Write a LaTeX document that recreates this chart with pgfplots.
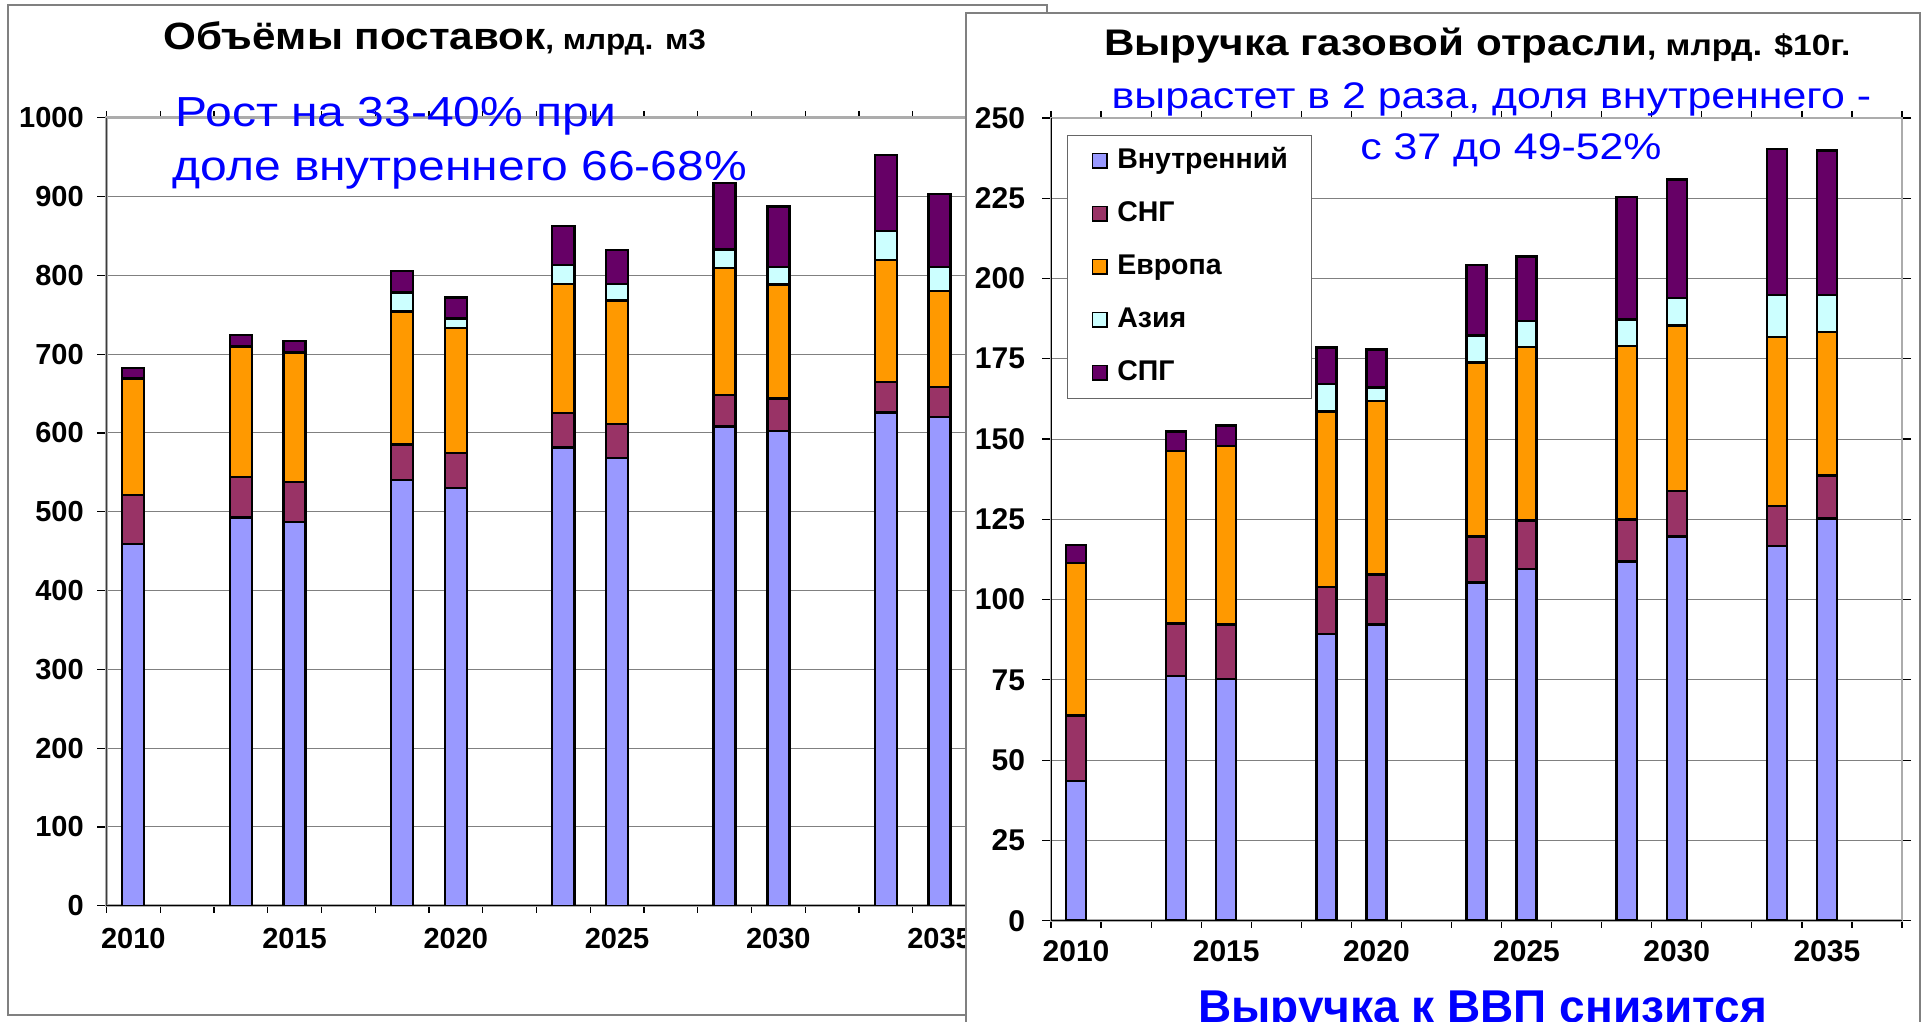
\documentclass[border=0pt]{standalone}
\usepackage{fontspec}
\setmainfont{Liberation Sans}
\usepackage{graphicx}
\usepackage{pgfplots}
\pgfplotsset{compat=1.18}
\definecolor{vnutr}{HTML}{9999FF}
\definecolor{sng}{HTML}{993366}
\definecolor{evropa}{HTML}{FF9900}
\definecolor{aziya}{HTML}{CCFFFF}
\definecolor{spg}{HTML}{660066}
\definecolor{txtblue}{HTML}{0000FF}

\pgfplotsset{
  gasbars/.style={
    ybar stacked, bar shift=0pt,
    scale only axis,
    xmin=-0.5, xmax=16.5, ymin=0,
    axis line style={draw=gray!65, line width=1.3pt},
    ymajorgrids, major grid style={draw=gray, line width=0.5pt},
    tick align=outside,
    xtick={0,3,...,15},
    xticklabels={2010,2015,2020,2025,2030,2035},
    major x tick style={draw=none},
    minor xtick={-0.5,0.5,...,16.5},
    minor tick length=3.5pt, major tick length=4.5pt,
    every tick/.style={black, line width=0.6pt},
    /pgf/number format/assume math mode=true,
    /pgf/number format/1000 sep={},
    every axis plot/.append style={draw=black, line width=1.2pt},
  }
}

\begin{document}
\begin{tikzpicture}
\path[use as bounding box] (0,0) rectangle (960.5pt,511pt);
\clip (0,0) rectangle (960.5pt,511pt);

% левая панель
\draw[gray, line width=0.6pt, fill=white] (4pt,3.5pt) rectangle (523.5pt,508.5pt);

\begin{axis}[gasbars,
    at={(53.2pt,58.1pt)}, anchor=south west,
    width=456.9pt, height=394pt,
    ymax=1000, ytick={0,100,...,1000},
    bar width=0.41,
    tick label style={font=\fontsize{14.5}{16}\selectfont\bfseries},
    yticklabel style={xshift=-3.3pt},
    xticklabel style={yshift=-3.3pt},
]
\addplot[fill=vnutr] coordinates {(0,459.5) (2,493) (3,487) (5,540.5) (6,530) (8,581.5) (9,568) (11,608) (12,602.5) (14,626) (15,620)};
\addplot[fill=sng] coordinates {(0,61.5) (2,51) (3,51) (5,44.7) (6,44.5) (8,43.5) (9,43.5) (11,40) (12,41.5) (14,38.5) (15,38)};
\addplot[fill=evropa] coordinates {(0,148) (2,166) (3,164) (5,169) (6,159) (8,164) (9,156.5) (11,161.5) (12,144.5) (14,155) (15,122.5)};
\addplot[fill=aziya] coordinates {(0,0) (2,0) (3,0) (5,24) (6,12) (8,24.5) (9,21) (11,23.5) (12,22) (14,37) (15,30.5)};
\addplot[fill=spg] coordinates {(0,13.5) (2,14.5) (3,14.5) (5,27) (6,26.5) (8,49) (9,43.5) (11,84) (12,77) (14,96) (15,92)};
\draw[black, line width=0.9pt] (rel axis cs:0,0) -- (rel axis cs:0,1);
\draw[black, line width=0.9pt] (rel axis cs:0,0) -- (rel axis cs:1,0);
\end{axis}

% правая панель поверх левой
\draw[gray, line width=0.6pt, fill=white] (483pt,-5pt) rectangle (960pt,504.5pt);

\begin{axis}[gasbars,
    at={(525.5pt,50.65pt)}, anchor=south west,
    width=425.5pt, height=401.35pt,
    ymax=250, ytick={0,25,...,250},
    bar width=0.4,
    tick label style={font=\fontsize{15}{17}\selectfont\bfseries},
    yticklabel style={xshift=-5pt},
    xticklabel style={yshift=-1.8pt},
    legend cell align=left,
    legend image code/.code={\draw[#1, draw=black, line width=0.9pt] (0pt,-3.7pt) rectangle (7.4pt,3.7pt);},
    legend style={at={(0.019,0.979)}, anchor=north west,
        draw=gray!80!black, line width=0.5pt, fill=white,
        font=\fontsize{14.25}{16}\selectfont\bfseries,
        inner xsep=12pt, inner ysep=6pt, row sep=13pt,
        nodes={inner sep=0pt, text height=10.5pt, text depth=3pt},
        /tikz/every odd column/.append style={column sep=4.5pt}},
]
\addplot[fill=vnutr] coordinates {(0,43.6) (2,76.2) (3,75.3) (5,89.2) (6,92.2) (8,105.3) (9,109.6) (11,111.9) (12,119.6) (14,116.7) (15,125.3)};
\addplot[fill=sng] coordinates {(0,20.3) (2,16.4) (3,17.0) (5,14.7) (6,15.6) (8,14.4) (9,15.0) (11,13.1) (12,14.2) (14,12.5) (15,13.4)};
\addplot[fill=evropa] coordinates {(0,47.5) (2,53.7) (3,55.6) (5,54.7) (6,54.0) (8,54.2) (9,54.1) (11,53.9) (12,51.6) (14,52.6) (15,44.6)};
\addplot[fill=aziya] coordinates {(0,0) (2,0) (3,0) (5,8.6) (6,4.3) (8,8.4) (9,8.0) (11,8.3) (12,8.6) (14,13.1) (15,11.6)};
\addplot[fill=spg] coordinates {(0,5.7) (2,6.1) (3,6.3) (5,11.3) (6,11.8) (8,22.0) (9,20.1) (11,38.1) (12,36.8) (14,45.5) (15,45.0)};
\legend{Внутренний,СНГ,Европа,Азия,СПГ}
\draw[black, line width=0.9pt] (rel axis cs:0,0) -- (rel axis cs:0,1);
\draw[black, line width=0.9pt] (rel axis cs:0,0) -- (rel axis cs:1,0);
\end{axis}

% заголовки и подписи
\node[anchor=base west, inner sep=0pt] at (81.5pt,486pt)
  {\scalebox{1.11}[1]{\fontsize{19}{22}\selectfont\bfseries Объёмы поставок\fontsize{14.2}{16}\selectfont, млрд. м3}};
\node[anchor=base west, inner sep=0pt, text=txtblue] at (87.5pt,447.5pt)
  {\scalebox{1.143}[1]{\fontsize{21}{24}\selectfont Рост на 33-40\% при}};
\node[anchor=base west, inner sep=0pt, text=txtblue] at (86pt,420.5pt)
  {\scalebox{1.143}[1]{\fontsize{21}{24}\selectfont доле внутреннего 66-68\%}};

\node[anchor=base west, inner sep=0pt] at (552pt,483pt)
  {\scalebox{1.14}[1]{\fontsize{18.5}{22}\selectfont\bfseries Выручка газовой отрасли\fontsize{14.7}{17}\selectfont, млрд. \$10г.}};
\node[anchor=base, inner sep=0pt, text=txtblue] at (745.75pt,456.5pt)
  {\scalebox{1.158}[1]{\fontsize{18.5}{22}\selectfont вырастет в 2 раза, доля внутреннего -}};
\node[anchor=base, inner sep=0pt, text=txtblue] at (755.5pt,431pt)
  {\scalebox{1.158}[1]{\fontsize{18.5}{22}\selectfont с 37 до 49-52\%}};
\node[anchor=base, inner sep=0pt, text=txtblue] at (741.25pt,-0.5pt)
  {\fontsize{23}{26}\selectfont\bfseries Выручка к ВВП снизится};
\end{tikzpicture}
\end{document}
